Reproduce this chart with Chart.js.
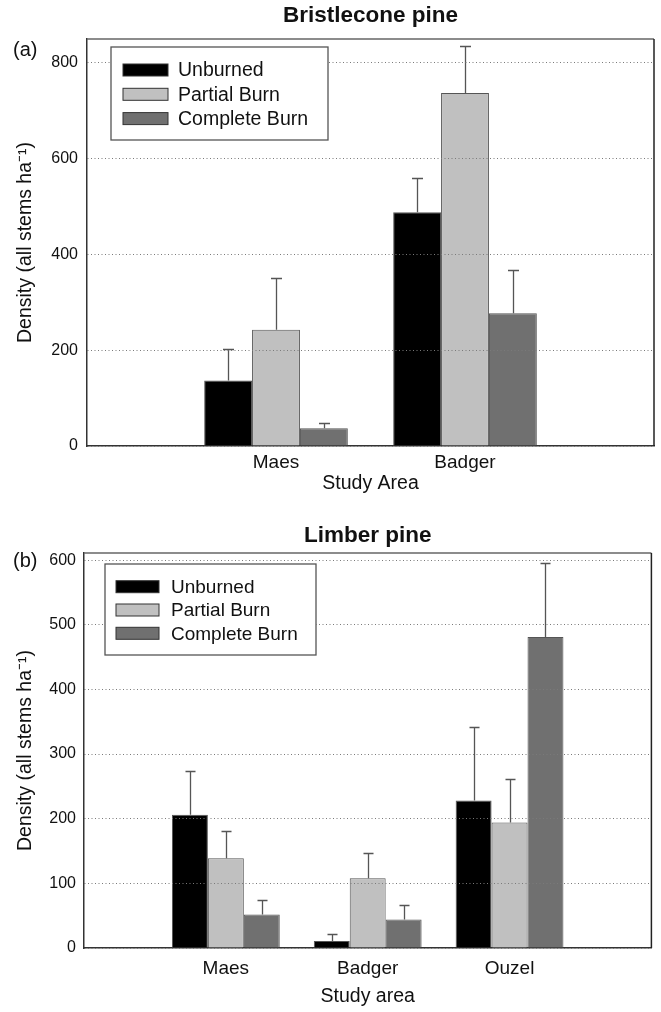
<!DOCTYPE html>
<html><head><meta charset="utf-8">
<script src="https://cdn.jsdelivr.net/npm/chart.js@4/dist/chart.umd.min.js"></script>
<style>
html,body{margin:0;padding:0;background:#fff;}
#wrap{position:relative;width:661px;height:1012px;}
canvas{position:absolute;left:0;}
#c1{top:0}
#c2{top:500px}
</style></head><body>
<div id="wrap"><canvas id="c1" width="661" height="500"></canvas><canvas id="c2" width="661" height="512"></canvas></div>
<script>
// ---------- data ----------
const seriesNames = ['Unburned', 'Partial Burn', 'Complete Burn'];
const seriesColors = ['#000000', '#c0c0c0', '#707070'];

const bristleconeAreas = ['Maes', 'Badger'];
const bristleconeUnburned = [137, 488];
const bristleconePartial = [243, 737];
const bristleconeComplete = [37, 277];
const bristleconeUnburnedErr = [65, 71];
const bristleconePartialErr = [108, 98];
const bristleconeCompleteErr = [12, 90];

const limberAreas = ['Maes', 'Badger', 'Ouzel'];
const limberUnburned = [206, 11, 228];
const limberPartial = [139, 108, 194];
const limberComplete = [52, 44, 481];
const limberUnburnedErr = [68, 11, 114];
const limberPartialErr = [42, 39, 67];
const limberCompleteErr = [23, 22, 114];

// ---------- helpers ----------
const FONT = '"Liberation Sans", Arial, Helvetica, sans-serif';
const TXT = '#111111';
const pad = arr => [null, ...arr, null];
const padLabels = arr => ['', ...arr, ''];

const errorBarPlugin = {
  id: 'errorBars',
  afterDatasetsDraw(chart, args, opts) {
    const ctx = chart.ctx, y = chart.scales.y;
    ctx.save();
    ctx.strokeStyle = opts.color; ctx.lineWidth = opts.width;
    chart.data.datasets.forEach((ds, di) => {
      const meta = chart.getDatasetMeta(di);
      const errs = opts.errors[di];
      ds.data.forEach((v, i) => {
        if (v == null) return;
        const e = errs[i - 1];
        if (e == null) return;
        const x = Math.round(meta.data[i].x) + 0.5;
        const y0 = y.getPixelForValue(v), y1 = Math.round(y.getPixelForValue(v + e)) + 0.5;
        ctx.beginPath();
        ctx.moveTo(x, y0); ctx.lineTo(x, y1);
        ctx.moveTo(x - opts.cap / 2, y1); ctx.lineTo(x + opts.cap / 2, y1);
        ctx.stroke();
      });
    });
    ctx.restore();
  }
};

const framePlugin = {
  id: 'frame',
  afterDraw(chart) {
    const {ctx, chartArea: a} = chart;
    ctx.save();
    ctx.lineWidth = 1.5;
    ctx.strokeStyle = '#666';
    ctx.beginPath(); ctx.moveTo(a.left, a.top); ctx.lineTo(a.right, a.top); ctx.stroke();
    ctx.strokeStyle = '#222';
    ctx.beginPath(); ctx.moveTo(a.right, a.top); ctx.lineTo(a.right, a.bottom); ctx.stroke();
    ctx.restore();
  }
};

const boxLegendPlugin = {
  id: 'boxLegend',
  afterDraw(chart, args, o) {
    const {ctx, chartArea: a} = chart;
    const bx = a.left + o.dx, by = a.top + o.dy;
    ctx.save();
    ctx.fillStyle = '#fff';
    ctx.fillRect(bx, by, o.w, o.h);
    ctx.lineWidth = 1.3; ctx.strokeStyle = '#555';
    ctx.strokeRect(bx, by, o.w, o.h);
    ctx.font = o.fontSize + 'px ' + FONT;
    ctx.textBaseline = 'middle'; ctx.textAlign = 'left';
    chart.data.datasets.forEach((ds, i) => {
      const cy = by + o.row0 + i * o.rowGap;
      ctx.fillStyle = ds.backgroundColor;
      ctx.fillRect(bx + o.swX, cy - o.swH / 2, o.swW, o.swH);
      ctx.lineWidth = 1; ctx.strokeStyle = '#333';
      ctx.strokeRect(bx + o.swX, cy - o.swH / 2, o.swW, o.swH);
      ctx.fillStyle = TXT;
      ctx.fillText(ds.label, bx + o.textX, cy + 1);
    });
    ctx.restore();
  }
};

const panelLabelPlugin = {
  id: 'panelLabel',
  afterDraw(chart, args, o) {
    const ctx = chart.ctx;
    ctx.save();
    ctx.font = o.fontSize + 'px ' + FONT;
    ctx.fillStyle = TXT; ctx.textBaseline = 'middle'; ctx.textAlign = 'left';
    ctx.fillText(o.text, o.x, o.y);
    ctx.restore();
  }
};

function makeChart(el, cfg) {
  const datasets = [cfg.unburned, cfg.partial, cfg.complete].map((d, i) => ({
    label: seriesNames[i],
    data: pad(d),
    backgroundColor: seriesColors[i],
    borderColor: '#555',
    borderWidth: 1,
    categoryPercentage: 0.76,
    barPercentage: 1.0
  }));
  return new Chart(el, {
    type: 'bar',
    data: {labels: padLabels(cfg.areas), datasets},
    plugins: [errorBarPlugin, framePlugin, boxLegendPlugin, panelLabelPlugin],
    options: {
      responsive: false, animation: false,
      layout: {padding: {left: 0, right: 7, top: 0, bottom: 0}},
      plugins: {
        legend: {display: false},
        tooltip: {enabled: false},
        title: {display: true, text: cfg.title, fullSize: false, color: TXT,
          font: {family: FONT, size: 22.5, weight: 'bold', lineHeight: 1.2},
          padding: cfg.titlePad},
        errorBars: {errors: cfg.errors, color: '#555', width: 1.3, cap: cfg.cap},
        boxLegend: cfg.legend,
        panelLabel: cfg.panel
      },
      scales: {
        x: {
          type: 'category', offset: false,
          grid: {display: false, drawTicks: false},
          border: {display: true, color: '#333', width: 1.5},
          ticks: {color: TXT, padding: cfg.xTickPad, autoSkip: false, maxRotation: 0,
            font: {family: FONT, size: 19, lineHeight: 1.2}},
          title: {display: true, text: cfg.xTitle, color: TXT,
            font: {family: FONT, size: 19.5, lineHeight: 1.2}, padding: {top: 0, bottom: cfg.xTitlePadB}},
          afterFit(s) { s.height = cfg.xAxisH; }
        },
        y: {
          min: 0, max: cfg.yMax,
          ticks: {stepSize: cfg.yStep, includeBounds: false, padding: cfg.yTickPad, color: TXT,
            font: {family: FONT, size: 16}},
          grid: {color: '#7a7a7a', lineWidth: 1, drawTicks: false, z: 1},
          border: {display: true, color: '#333', width: 1.5, dash: [1, 2.5], z: 1},
          title: {display: true, text: 'Density (all stems ha\u207B\u00B9)', color: TXT,
            font: {family: FONT, size: 19.5, lineHeight: 1.2}, padding: {top: 13.6, bottom: 0}},
          afterFit(s) { s.width = cfg.yAxisW; }
        }
      }
    }
  });
}

makeChart(document.getElementById('c1'), {
  areas: bristleconeAreas,
  unburned: bristleconeUnburned, partial: bristleconePartial, complete: bristleconeComplete,
  errors: [bristleconeUnburnedErr, bristleconePartialErr, bristleconeCompleteErr],
  title: 'Bristlecone pine', titlePad: {top: 2.5, bottom: 9.5},
  xTitle: 'Study Area', xTickPad: 5, xTitlePadB: 4.6, xAxisH: 54,
  yMax: 850, yStep: 200, yTickPad: 9, yAxisW: 87, cap: 11,
  legend: {dx: 24, dy: 8, w: 217, h: 93, swX: 12, swW: 45, swH: 12, textX: 67, row0: 23, rowGap: 24.3, fontSize: 19.5},
  panel: {text: '(a)', x: 13, y: 50, fontSize: 20}
});

makeChart(document.getElementById('c2'), {
  areas: limberAreas,
  unburned: limberUnburned, partial: limberPartial, complete: limberComplete,
  errors: [limberUnburnedErr, limberPartialErr, limberCompleteErr],
  title: 'Limber pine', titlePad: {top: 22, bottom: 4},
  xTitle: 'Study area', xTickPad: 9.6, xTitlePadB: 3.6, xAxisH: 64,
  yMax: 611, yStep: 100, yTickPad: 8, yAxisW: 84, cap: 10,
  legend: {dx: 21, dy: 11, w: 211, h: 91, swX: 11, swW: 43, swH: 12, textX: 66, row0: 22.7, rowGap: 23.3, fontSize: 19},
  panel: {text: '(b)', x: 13, y: 61, fontSize: 20}
});
</script>
</body></html>
